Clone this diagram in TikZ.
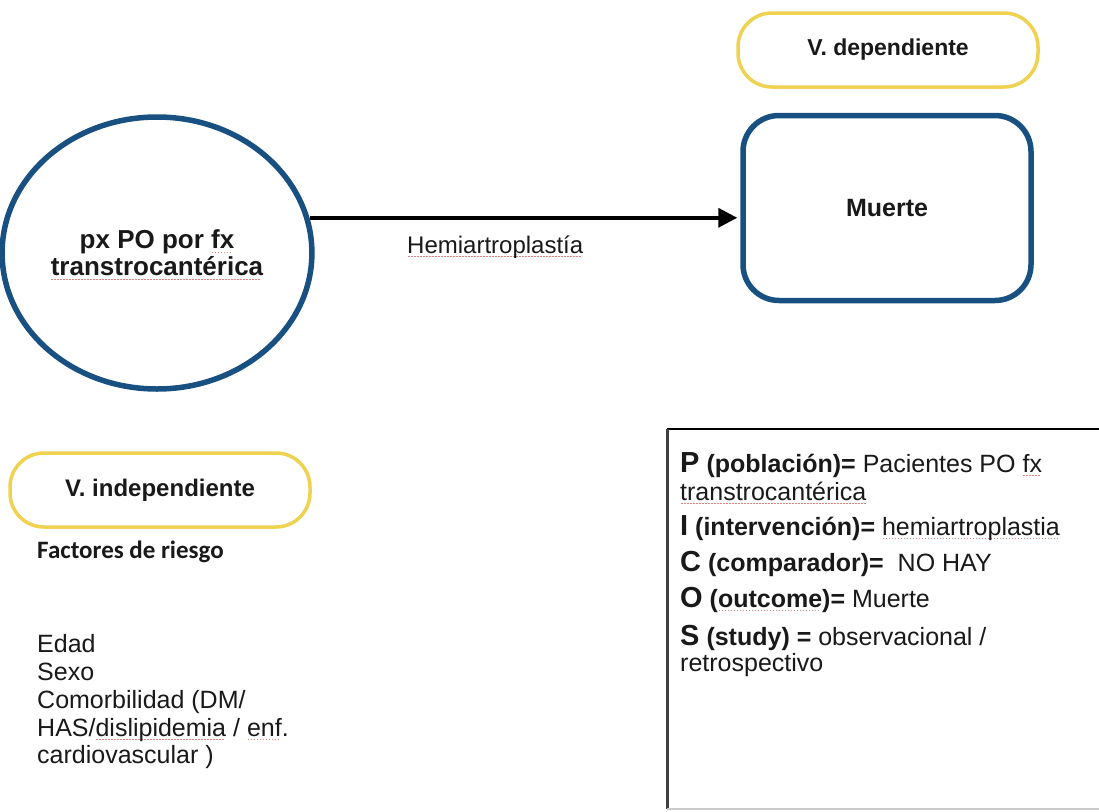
\documentclass[tikz,border=0pt]{standalone}
\usepackage{fontspec}
\setmainfont{Liberation Sans}
\newfontfamily\calib{Carlito}
\usetikzlibrary{shapes.geometric,arrows.meta}
\definecolor{brushblue}{RGB}{24,80,130}
\definecolor{brushyellow}{RGB}{238,210,80}
\definecolor{txt}{RGB}{25,25,25}
\definecolor{sqred}{RGB}{228,130,130}
\newcommand\sqw[1]{\setbox0=\hbox{#1}\rlap{\raisebox{-4pt}[0pt][0pt]{\color{sqred}\hbox to \wd0{\leaders\hbox to 3pt{\hss\rule{1.6pt}{1.1pt}\hss}\hfill}}}#1}
\newcommand\BL[1]{{\fontsize{29}{30}\selectfont\bfseries #1}}
\begin{document}
\begin{tikzpicture}[x=1pt,y=-1pt,
  bluering/.style={draw=brushblue, line width=5.5pt, text=txt},
  bluebox/.style={bluering, rounded corners=36pt, minimum width=288pt, minimum height=185pt,
    font=\bfseries\fontsize{25}{30}\selectfont},
  pill/.style={draw=brushyellow, line width=3.5pt, rounded corners=34pt, minimum width=300pt,
    minimum height=74pt, text=txt},
  plain/.style={anchor=base west, inner sep=0pt, text=txt, font=\fontsize{25}{30}\selectfont},
  flow/.style={line width=3.5pt, -{Triangle[length=19pt,width=19pt]}, shorten >=3pt}
]
\clip (0,0) rectangle (1099,811);
\fill[white] (0,0) rectangle (1099,811);

% population circle
\node[bluering, ellipse, minimum width=290pt, minimum height=272pt, align=center,
  font=\bfseries\fontsize{26}{27}\selectfont] (circ) at (157,253)
  {px PO por \sqw{fx}\\\sqw{transtrocantérica}};

% outcome box
\node[bluebox] (muerte) at (887,208) {Muerte};

% labels in yellow pills
\node[pill, font=\bfseries\fontsize{23}{28}\selectfont] (vdep) at (888,50) {V. dependiente};
\node[pill, font=\bfseries\fontsize{24}{28}\selectfont] (vind) at (160,490) {V. independiente};

% arrow
\draw[flow] (circ.13) -- (circ.13 -| muerte.west);
\node[plain, font=\fontsize{24}{28}\selectfont] (hemi) at (407,253) {\sqw{Hemiartroplastía}};

% risk factors
\node[plain, font=\calib\bfseries\fontsize{25}{28}\selectfont] (fact) at (37,558) {Factores de riesgo};
\node[plain] (l1) at (37,652) {Edad};
\node[plain] (l2) at (37,680) {Sexo};
\node[plain] (l3) at (37,708) {Comorbilidad (DM/};
\node[plain] (l4) at (37,736) {HAS/\sqw{dislipidemia} / \sqw{enf}.};
\node[plain] (l5) at (37,763) {cardiovascular )};

% PICO box
\node[anchor=north west, minimum width=445pt, minimum height=380pt, inner sep=0pt] (pico) at (667,429) {};
\draw[black, line width=2pt] (pico.north east) -- (pico.north west);
\draw[black!75, line width=3pt] (pico.north west) -- (pico.south west);
\draw[black!20, line width=2pt] (pico.south west) -- (pico.south east);

\node[plain] (p1) at (680,472) {\BL{P} \textbf{(población)=} Pacientes PO \sqw{fx}};
\node[plain] (p2) at (680,500) {\sqw{transtrocantérica}};
\node[plain] (p3) at (680,535) {\BL{I} \textbf{(intervención)=} \sqw{hemiartroplastia}};
\node[plain] (p4) at (680,571) {\BL{C} \textbf{(comparador)=}\ \ NO HAY};
\node[plain] (p5) at (680,607) {\BL{O} \textbf{(\sqw{outcome})=} Muerte};
\node[plain] (p6) at (680,645) {\BL{S} \textbf{(study) =} observacional /};
\node[plain] (p7) at (680,671) {retrospectivo};
\end{tikzpicture}
\end{document}
